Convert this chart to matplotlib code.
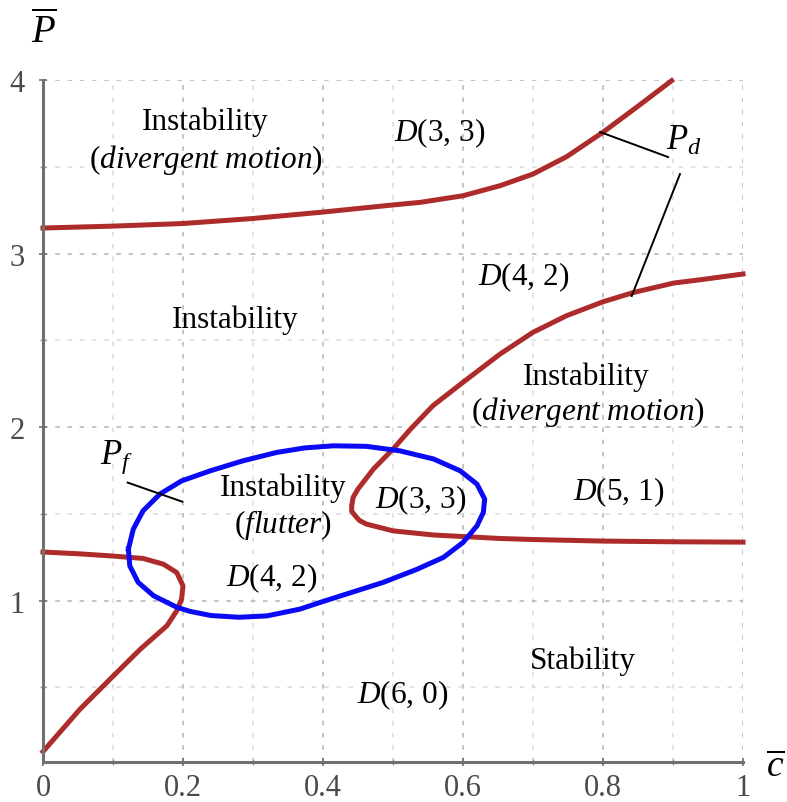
import matplotlib
matplotlib.use("Agg")
import matplotlib.pyplot as plt
from matplotlib.ticker import MultipleLocator, FixedLocator

plt.rcParams['font.family'] = ['Liberation Serif', 'DejaVu Serif']
plt.rcParams['mathtext.fontset'] = 'custom'
plt.rcParams['mathtext.rm'] = 'Liberation Serif'
plt.rcParams['mathtext.it'] = 'Liberation Serif:italic'
plt.rcParams['mathtext.bf'] = 'Liberation Serif:bold'

# Upper divergence boundary P_d (branch 1)
pd_upper_c = [0.0, 0.1, 0.2, 0.3, 0.4, 0.5, 0.539, 0.6, 0.653, 0.700, 0.748, 0.8, 0.848, 0.898]
pd_upper_p = [3.147, 3.158, 3.173, 3.202, 3.239, 3.280, 3.295, 3.333, 3.391, 3.458, 3.558, 3.699, 3.843, 3.996]

# Middle divergence boundary P_d (branch 2, folds back at c ~ 0.44)
pd_mid_c = [1.0, 0.939, 0.901, 0.844, 0.8, 0.748, 0.700, 0.653, 0.6, 0.557, 0.525,
            0.50, 0.472, 0.450, 0.443, 0.441, 0.441, 0.446, 0.452, 0.462, 0.50, 0.558,
            0.653, 0.7, 0.8, 0.9, 1.0]
pd_mid_p = [2.882, 2.849, 2.830, 2.776, 2.722, 2.642, 2.546, 2.421, 2.258, 2.123, 1.988,
            1.873, 1.758, 1.643, 1.595, 1.546, 1.515, 1.489, 1.462, 1.441, 1.402, 1.378,
            1.358, 1.352, 1.343, 1.339, 1.337]

# Lower divergence boundary (folds at c ~ 0.2)
pd_low_c = [0.0, 0.05, 0.096, 0.143, 0.172, 0.191, 0.200, 0.198, 0.191, 0.177, 0.139, 0.096, 0.053, 0.0]
pd_low_p = [1.28, 1.27, 1.258, 1.243, 1.210, 1.162, 1.085, 1.009, 0.941, 0.855, 0.72, 0.548, 0.375, 0.13]

# Flutter boundary P_f (closed loop)
pf_c = [0.122, 0.129, 0.143, 0.167, 0.198, 0.239, 0.286, 0.334, 0.374, 0.415, 0.462, 0.51,
        0.558, 0.596, 0.620, 0.631, 0.629, 0.620, 0.600, 0.572, 0.534, 0.486, 0.439, 0.4,
        0.367, 0.320, 0.280, 0.240, 0.210, 0.191, 0.158, 0.136, 0.124, 0.122]
pf_p = [1.297, 1.412, 1.518, 1.614, 1.690, 1.748, 1.806, 1.854, 1.880, 1.892, 1.889, 1.863,
        1.816, 1.748, 1.671, 1.585, 1.508, 1.431, 1.335, 1.249, 1.180, 1.105, 1.045, 0.995,
        0.951, 0.912, 0.904, 0.914, 0.938, 0.962, 1.028, 1.105, 1.20, 1.297]

x_ticks = [0, 0.2, 0.4, 0.6, 0.8, 1.0]
x_labels = ['0', '0.2', '0.4', '0.6', '0.8', '1']
y_ticks = [1, 2, 3, 4]
y_labels = ['1', '2', '3', '4']

RED = '#ae2b2b'
BLUE = '#0a0af5'
TICK_FS = 22

fig = plt.figure(figsize=(7.87, 8.03), dpi=100)
ax = fig.add_axes([43 / 787, 40 / 803, 700 / 787, 682 / 803])
ax.set_xlim(0, 1)
ax.set_ylim(0.07, 4.0)

ax.tick_params(which='major', direction='inout', length=6, width=1.2, color='#707070',
               labelsize=TICK_FS, labelcolor='#4a4a4a')
ax.tick_params(which='minor', direction='inout', length=4, width=1.0, color='#909090')
ax.tick_params(axis='x', which='major', pad=5)
ax.tick_params(axis='y', which='major', pad=10)

ax.xaxis.set_major_locator(FixedLocator(x_ticks))
ax.set_xticklabels(x_labels, fontsize=TICK_FS)
ax.xaxis.set_minor_locator(MultipleLocator(0.1))
ax.yaxis.set_major_locator(FixedLocator(y_ticks))
ax.set_yticklabels(y_labels, fontsize=TICK_FS)
ax.yaxis.set_minor_locator(MultipleLocator(0.5))

ax.grid(which='major', color='#b4b4b4', linestyle=(0, (3, 5)), linewidth=1.1)
ax.grid(which='minor', color='#dadada', linestyle=(0, (3, 5)), linewidth=1.1)
ax.set_axisbelow(True)

for side in ('top', 'right'):
    ax.spines[side].set_visible(False)
for side in ('left', 'bottom'):
    ax.spines[side].set_color('#707070')
    ax.spines[side].set_linewidth(2.2)

lw = 3.6
for cx, cy in ((pd_upper_c, pd_upper_p), (pd_mid_c, pd_mid_p), (pd_low_c, pd_low_p)):
    ax.plot(cx, cy, color=RED, lw=lw, solid_capstyle='projecting',
            solid_joinstyle='round', clip_on=False)
ax.plot(pf_c, pf_p, color=BLUE, lw=lw, solid_joinstyle='round')

fs = 22.5
def label(x, y, s):
    ax.text(x, y, s, fontsize=fs, ha='center', va='center', color='black')

label(0.231, 3.764, 'Instability')
label(0.233, 3.545, r'($\mathit{divergent\ motion}$)')
label(0.567, 3.70, r'$D$(3, 3)')
label(0.274, 2.622, 'Instability')
label(0.686, 2.870, r'$D$(4, 2)')
label(0.776, 2.294, 'Instability')
label(0.779, 2.092, r'($\mathit{divergent\ motion}$)')
label(0.823, 1.631, r'$D$(5, 1)')
label(0.343, 1.654, 'Instability')
label(0.343, 1.441, r'($\mathit{flutter}$)')
label(0.540, 1.585, r'$D$(3, 3)')
label(0.327, 1.135, r'$D$(4, 2)')
label(0.771, 0.657, 'Stability')
label(0.514, 0.461, r'$D$(6, 0)')

# Curve name callouts
ax.text(0.105, 1.83, r'$P_f$', fontsize=25, ha='center', va='center')
ax.plot([0.121, 0.199], [1.68, 1.57], color='black', lw=1.4)
ax.text(0.916, 3.65, r'$P_d$', fontsize=25, ha='center', va='center')
ax.plot([0.893, 0.796], [3.556, 3.70], color='black', lw=1.4)
ax.plot([0.91, 0.841], [3.458, 2.755], color='black', lw=1.4)

# Axis names
fig.text(44 / 787, 1 - 33 / 803, r'$\overline{P}$', fontsize=28, ha='center', va='center')
fig.text(775 / 787, 1 - 768 / 803, r'$\overline{c}$', fontsize=27, ha='center', va='center')

fig.savefig('out.png', dpi=100)
